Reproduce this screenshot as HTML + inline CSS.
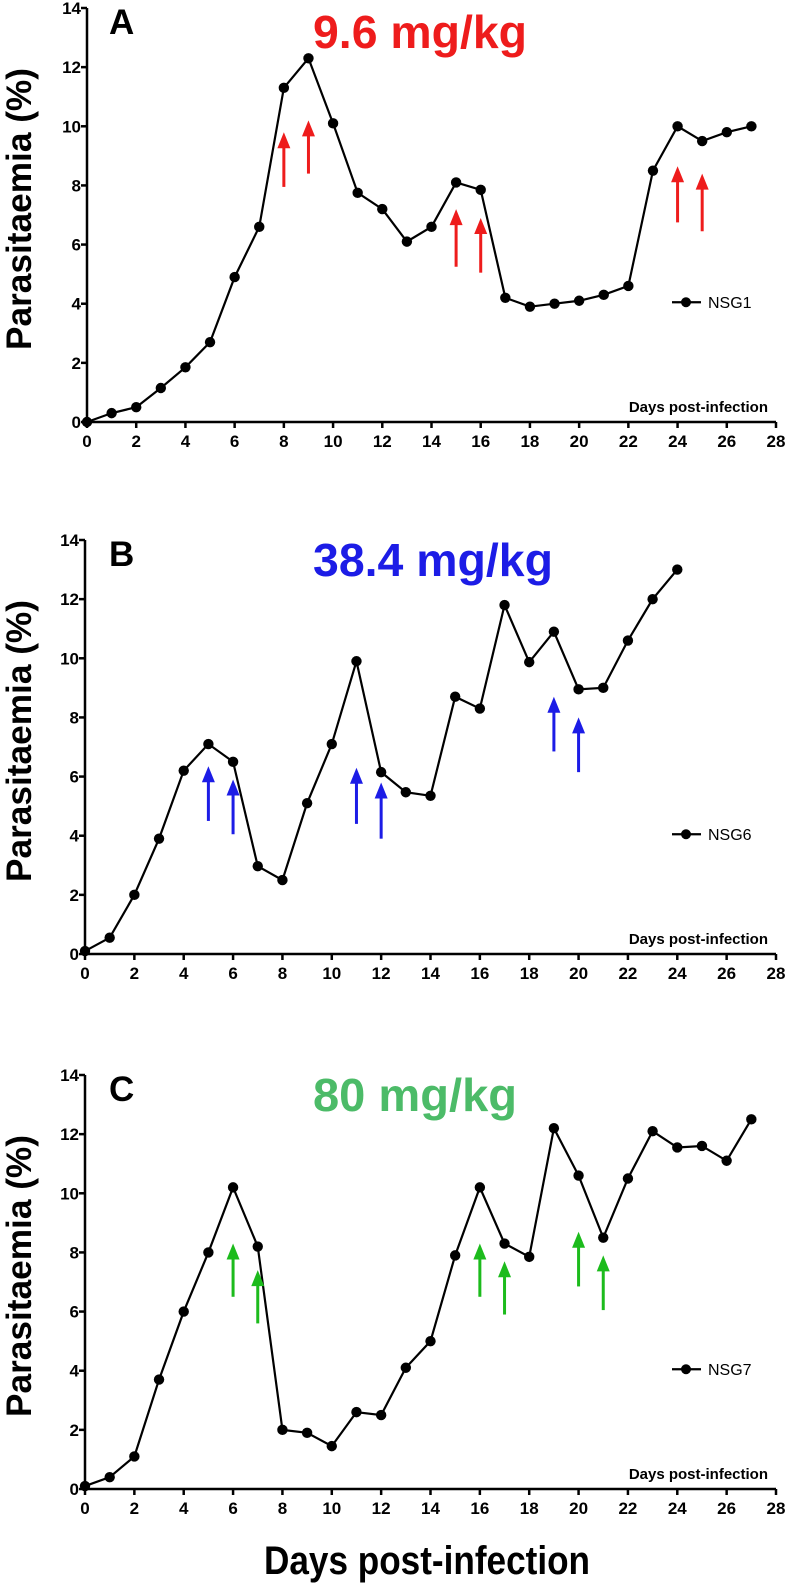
<!DOCTYPE html>
<html><head><meta charset="utf-8">
<style>
html,body{margin:0;padding:0;background:#fff;}
svg{display:block;font-family:"Liberation Sans",Arial,sans-serif;}
</style></head>
<body>
<svg id="fig" width="787" height="1583" viewBox="0 0 787 1583" xmlns="http://www.w3.org/2000/svg"></svg>
<script>
// Shared axis data
const days = [...Array(28).keys()];
const xTicks = [0,2,4,6,8,10,12,14,16,18,20,22,24,26,28];
const yTicks = [0,2,4,6,8,10,12,14];

// Panel A
const aValues = [0,0.3,0.5,1.15,1.85,2.7,4.9,6.6,11.3,12.3,10.1,7.75,7.2,6.1,6.6,8.1,7.85,4.2,3.9,4.0,4.1,4.3,4.6,8.5,10.0,9.5,9.8,10.0];
const aArrowDays = [8,9,15,16,24,25];
const aArrowTop = [9.8,10.2,7.2,6.9,8.65,8.4];
const aArrowBottom = [7.95,8.4,5.25,5.05,6.75,6.45];
// Panel B
const bValues = [0.1,0.55,2.0,3.9,6.2,7.1,6.5,2.97,2.5,5.1,7.1,9.9,6.15,5.47,5.35,8.7,8.3,11.8,9.87,10.9,8.95,9.0,10.6,12.0,13.0];
const bArrowDays = [5,6,11,12,19,20];
const bArrowTop = [6.35,5.9,6.3,5.8,8.7,8.0];
const bArrowBottom = [4.5,4.05,4.4,3.9,6.85,6.15];
// Panel C
const cValues = [0.1,0.4,1.1,3.7,6.0,8.0,10.2,8.2,2.0,1.9,1.45,2.6,2.5,4.1,5.0,7.9,10.2,8.3,7.85,12.2,10.6,8.5,10.5,12.1,11.55,11.6,11.1,12.5];
const cArrowDays = [6,7,16,17,20,21];
const cArrowTop = [8.3,7.4,8.3,7.7,8.7,7.9];
const cArrowBottom = [6.5,5.6,6.5,5.9,6.85,6.05];

const NS = "http://www.w3.org/2000/svg";
const svg = document.getElementById('fig');
function mk(tag, attrs, parent){
  const e = document.createElementNS(NS, tag);
  for (const k in attrs) e.setAttribute(k, attrs[k]);
  (parent||svg).appendChild(e);
  return e;
}

function panel(cfg){
  const g = mk('g', {});
  
  
  const x0 = cfg.x0, x1 = 776, yb = cfg.y0, yt = cfg.y0 - 414;
  const X = d => x0 + d * (x1 - x0) / 28;
  const Y = v => yb - v * (yb - yt) / 14;

  // axes
  const ax = mk('path', {d:`M${x0},${yt} V${yb} H${x1}`, fill:'none', stroke:'#000', 'stroke-width':2.5}, g);
  
  
  yTicks.forEach(t => {
    mk('line', {x1:x0-6, x2:x0, y1:Y(t), y2:Y(t), stroke:'#000','stroke-width':2.5}, g);
    const tl = mk('text', {x:x0-6, y:Y(t)+6, 'text-anchor':'end', 'font-size':17, 'font-weight':'bold'}, g);
    tl.textContent = t;
    
    
  });
  xTicks.forEach(t => {
    mk('line', {x1:X(t), x2:X(t), y1:yb, y2:yb+6, stroke:'#000','stroke-width':2.5}, g);
    const tl = mk('text', {x:X(t), y:yb+25, 'text-anchor':'middle', 'font-size':17, 'font-weight':'bold'}, g);
    tl.textContent = t;
    
    
  });
  const xt = mk('text', {x:x1-8, y:yb-10, 'text-anchor':'end', 'font-size':15, 'font-weight':'bold'}, g);
  xt.textContent = 'Days post-infection';
  
  

  // y title
  const cy = (yb + yt) / 2 - 6;
  const yl = mk('text', {x:0, y:0, transform:`translate(31,${cy}) rotate(-90)`, 'text-anchor':'middle', 'font-size':35, 'font-weight':'bold', textLength:282, lengthAdjust:'spacingAndGlyphs'}, g);
  yl.textContent = 'Parasitaemia (%)';
  
  

  // letter
  const lt = mk('text', {x:109, y:yt+26, 'font-size':35, 'font-weight':'bold'}, g);
  lt.textContent = cfg.id.toUpperCase();
  
  

  // dose title
  const tt = mk('text', {x:cfg.tx, y:yt+cfg.ty, 'text-anchor':'middle', 'font-size':46, 'font-weight':'bold', fill:cfg.color, textLength:cfg.tw, lengthAdjust:'spacingAndGlyphs'}, g);
  tt.textContent = cfg.title;
  
  

  // series line
  const pts = cfg.values.map((v,i) => `${X(days[i])},${Y(v)}`).join(' ');
  const pl = mk('polyline', {points:pts, fill:'none', stroke:'#000', 'stroke-width':2.2}, g);
  
  
  cfg.values.forEach((v,i) => {
    const c = mk('circle', {cx:X(days[i]), cy:Y(v), r:5.2, fill:'#000'}, g);
    
    
  });

  // arrows
  cfg.arrowDays.forEach((d,i) => {
    const x = X(d), top = Y(cfg.arrowTop[i]), bot = Y(cfg.arrowBottom[i]);
    const a = mk('g', {}, g);
    
    
    mk('line', {x1:x, x2:x, y1:top+14, y2:bot, stroke:cfg.arrowColor, 'stroke-width':3}, a);
    mk('polygon', {points:`${x},${top} ${x-6.5},${top+16} ${x+6.5},${top+16}`, fill:cfg.arrowColor}, a);
  });

  // legend
  const ly = Y(4.05);
  const lg = mk('g', {}, g);
  
  
  mk('line', {x1:672, x2:701, y1:ly, y2:ly, stroke:'#000','stroke-width':2.2}, lg);
  mk('circle', {cx:686, cy:ly, r:5, fill:'#000'}, lg);
  const ltx = mk('text', {x:708, y:ly+6, 'font-size':16}, lg);
  ltx.textContent = cfg.legend;
}

panel({id:'a', x0:87, y0:422, values:aValues, arrowDays:aArrowDays, arrowTop:aArrowTop, arrowBottom:aArrowBottom, arrowColor:'#ee1c1c', color:'#ee1c1c', title:'9.6 mg/kg', tx:420, ty:40, tw:214, legend:'NSG1'});
panel({id:'b', x0:85, y0:954, values:bValues, arrowDays:bArrowDays, arrowTop:bArrowTop, arrowBottom:bArrowBottom, arrowColor:'#1c1ce6', color:'#1c1ce6', title:'38.4 mg/kg', tx:433, ty:36, tw:240, legend:'NSG6'});
panel({id:'c', x0:85, y0:1489, values:cValues, arrowDays:cArrowDays, arrowTop:cArrowTop, arrowBottom:cArrowBottom, arrowColor:'#1cbb1c', color:'#4cbb68', title:'80 mg/kg', tx:415, ty:36, tw:204, legend:'NSG7'});

const bt = mk('text', {x:427, y:1574, 'text-anchor':'middle', 'font-size':40, 'font-weight':'bold', textLength:326, lengthAdjust:'spacingAndGlyphs'});
bt.textContent = 'Days post-infection';


</script>
</body></html>
